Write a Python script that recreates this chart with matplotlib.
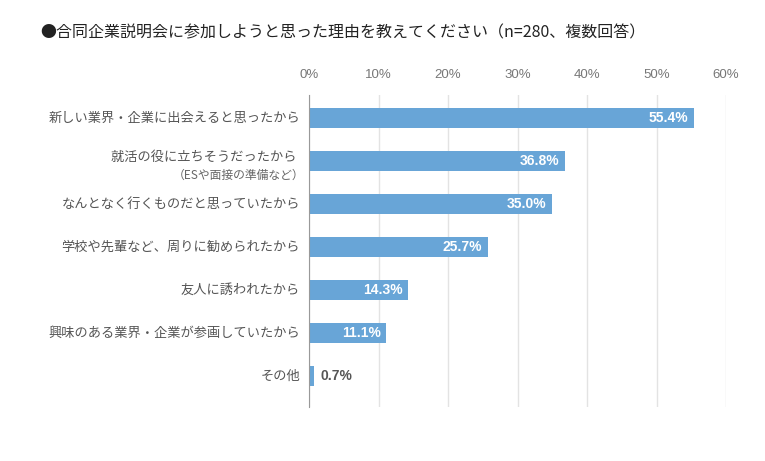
import matplotlib
matplotlib.use('Agg')
import matplotlib.pyplot as plt

plt.rcParams['font.family'] = ['Noto Sans CJK JP', 'DejaVu Sans']

# データ
labels = ['新しい業界・企業に出会えると思ったから',
          '就活の役に立ちそうだったから',
          'なんとなく行くものだと思っていたから',
          '学校や先輩など、周りに勧められたから',
          '友人に誘われたから',
          '興味のある業界・企業が参画していたから',
          'その他']
sublabels = ['', '（ESや面接の準備など）', '', '', '', '', '']
values = [55.4, 36.8, 35.0, 25.7, 14.3, 11.1, 0.7]
ticks = [0, 10, 20, 30, 40, 50, 60]
title = '●合同企業説明会に参加しようと思った理由を教えてください（n=280、複数回答）'

num_font = ['Liberation Sans', 'DejaVu Sans']

fig = plt.figure(figsize=(7.65, 4.61), dpi=100)
ax = fig.add_axes([309/765, 1-407/461, 417/765, 312/461])

ypos = list(range(len(values)))
ax.barh(ypos, values, height=0.48, color='#68a5d7', zorder=3)

ax.set_xlim(0, 60)
ax.set_ylim(6.72, -0.535)
ax.set_xticks(ticks)
ax.set_xticklabels([f'{t}%' for t in ticks], color='#777777', fontsize=9.5,
                   family=num_font)
ax.xaxis.tick_top()
ax.tick_params(axis='x', length=0, pad=10)
ax.set_yticks([])
ax.grid(axis='x', color='#e3e3e3', linewidth=1, zorder=0)
for s in ['top', 'right', 'bottom']:
    ax.spines[s].set_visible(False)
ax.spines['left'].set_color('#999999')
ax.spines['left'].set_zorder(4)

for y, v in zip(ypos, values):
    if v > 5:
        ax.text(v - 0.8, y, f'{v:.1f}%', color='white', fontsize=10,
                fontweight='bold', ha='right', va='center', zorder=5,
                family=num_font)
    else:
        ax.text(v + 1.0, y, f'{v:.1f}%', color='#555555', fontsize=10,
                fontweight='bold', ha='left', va='center', zorder=5,
                family=num_font)

for y, lab, sub in zip(ypos, labels, sublabels):
    if sub:
        ax.text(-1.4, y - 0.09, lab + ' ', color='#555555', fontsize=9.5,
                ha='right', va='center')
        ax.text(-0.6, y + 0.33, sub, color='#666666', fontsize=8.5,
                ha='right', va='center')
    else:
        ax.text(-1.3, y, lab, color='#555555', fontsize=9.5,
                ha='right', va='center')

fig.text(40/765, 1-33/461, title, fontsize=11.5, color='#222222',
         ha='left', va='center')

fig.savefig('out.png', dpi=100)
